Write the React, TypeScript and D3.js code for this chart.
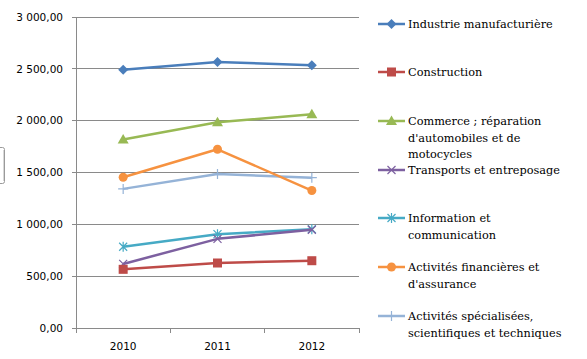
import React, { useEffect, useRef } from "react";
import * as d3 from "d3";

const years = ["2010", "2011", "2012"];
const seriesNames = [
  "Industrie manufacturière",
  "Construction",
  "Commerce ; réparation d'automobiles et de motocycles",
  "Transports et entreposage",
  "Information et communication",
  "Activités financières et d'assurance",
  "Activités spécialisées, scientifiques et techniques",
];
const industrie = [2490, 2566, 2535];
const construction = [566, 627, 649];
const commerce = [1818, 1985, 2062];
const transports = [618, 860, 948];
const information = [784, 905, 953];
const financieres = [1454, 1724, 1326];
const specialisees = [1342, 1485, 1450];
const yTicks = [0, 500, 1000, 1500, 2000, 2500, 3000];

const legendLines = [
  ["Industrie manufacturière"],
  ["Construction"],
  ["Commerce ; réparation", "d'automobiles et de", "motocycles"],
  ["Transports et entreposage"],
  ["Information et", "communication"],
  ["Activités financières et", "d'assurance"],
  ["Activités spécialisées,", "scientifiques et techniques"],
];
const legendY = [24, 72, 121, 170, 218, 267, 316];

const colors = ["#4A7EBB", "#BE4B48", "#98B954", "#7D60A0", "#46AAC5", "#F69240", "#95B3D7"];
const markers = ["diamond", "square", "triangle", "x", "asterisk", "circle", "plus"];

export default function App() {
  const ref = useRef<SVGSVGElement>(null);
  useEffect(() => {
    const svg = d3.select(ref.current);
    svg.selectAll("*").remove();
    const left = 76, right = 359, top = 17, bottom = 328;
    const x = d3.scaleBand().domain(years).range([left, right]);
    const y = d3.scaleLinear().domain([0, 3000]).range([bottom, top]);
    const fmt = (v: number) => {
      const s = d3.format(",.2f")(v);
      return s.replace(/,/g, " ").replace(".", ",");
    };

    // grid
    svg.append("g").selectAll("line").data(yTicks).join("line")
      .attr("x1", left).attr("x2", right)
      .attr("y1", d => y(d)).attr("y2", d => y(d))
      .attr("stroke", "#8a8a8a").attr("stroke-width", 1).attr("shape-rendering", "crispEdges");
    // y axis
    svg.append("line").attr("x1", left).attr("x2", left).attr("y1", top).attr("y2", bottom)
      .attr("stroke", "#8a8a8a").attr("shape-rendering", "crispEdges");
    svg.append("g").selectAll("line").data(yTicks).join("line")
      .attr("x1", left - 4).attr("x2", left).attr("y1", d => y(d)).attr("y2", d => y(d))
      .attr("stroke", "#8a8a8a").attr("shape-rendering", "crispEdges");
    svg.append("g").selectAll("text").data(yTicks).join("text")
      .attr("x", 63).attr("y", d => y(d)).attr("dy", "0.35em")
      .attr("text-anchor", "end").attr("font-family", "DejaVu Sans").attr("font-size", 10.5)
      .attr("fill", "#000").text(d => fmt(d));
    // x axis ticks
    const xt = [left, ...years.slice(1).map(d => x(d)!), right];
    svg.append("g").selectAll("line").data(xt).join("line")
      .attr("x1", d => d).attr("x2", d => d).attr("y1", bottom).attr("y2", bottom + 5)
      .attr("stroke", "#8a8a8a").attr("shape-rendering", "crispEdges");
    svg.append("g").selectAll("text").data(years).join("text")
      .attr("x", d => x(d)! + x.bandwidth() / 2).attr("y", 346).attr("dy", "0.35em")
      .attr("text-anchor", "middle").attr("font-family", "DejaVu Sans").attr("font-size", 10.5)
      .attr("fill", "#000").text(d => d);

    const data = [industrie, construction, commerce, transports, information, financieres, specialisees];
    const drawMarker = (g: any, type: string, cx: number, cy: number, c: string) => {
      if (type === "diamond") {
        g.append("path").attr("d", `M${cx},${cy - 5}L${cx + 5},${cy}L${cx},${cy + 5}L${cx - 5},${cy}Z`).attr("fill", c);
      } else if (type === "square") {
        g.append("rect").attr("x", cx - 4.5).attr("y", cy - 4.5).attr("width", 9).attr("height", 9).attr("fill", c);
      } else if (type === "triangle") {
        g.append("path").attr("d", `M${cx},${cy - 5.5}L${cx + 5.5},${cy + 4}L${cx - 5.5},${cy + 4}Z`).attr("fill", c);
      } else if (type === "circle") {
        g.append("circle").attr("cx", cx).attr("cy", cy).attr("r", 4.5).attr("fill", c);
      } else if (type === "x") {
        g.append("path").attr("d", `M${cx - 4},${cy - 4}L${cx + 4},${cy + 4}M${cx - 4},${cy + 4}L${cx + 4},${cy - 4}`)
          .attr("stroke", c).attr("stroke-width", 1.2).attr("fill", "none");
      } else if (type === "asterisk") {
        g.append("path").attr("d", `M${cx - 4},${cy - 4}L${cx + 4},${cy + 4}M${cx - 4},${cy + 4}L${cx + 4},${cy - 4}M${cx},${cy - 5}L${cx},${cy + 5}`)
          .attr("stroke", c).attr("stroke-width", 1.2).attr("fill", "none");
      } else if (type === "plus") {
        g.append("path").attr("d", `M${cx},${cy - 5}L${cx},${cy + 5}M${cx - 5},${cy}L${cx + 5},${cy}`)
          .attr("stroke", c).attr("stroke-width", 1.2).attr("fill", "none");
      }
    };

    const line = d3.line<number>().x((_, i) => x(years[i])! + x.bandwidth() / 2).y(d => y(d));
    const order = [6, 5, 4, 3, 2, 1, 0];
    order.forEach(si => {
      const g = svg.append("g");
      g.append("path").attr("d", line(data[si])).attr("fill", "none")
        .attr("stroke", colors[si]).attr("stroke-width", 2.5).attr("stroke-linejoin", "round");
      data[si].forEach((v, i) => drawMarker(g, markers[si], x(years[i])! + x.bandwidth() / 2, y(v), colors[si]));
    });

    // legend
    legendLines.forEach((lines, si) => {
      const g = svg.append("g");
      const ly = legendY[si];
      g.append("line").attr("x1", 378).attr("x2", 405).attr("y1", ly).attr("y2", ly)
        .attr("stroke", colors[si]).attr("stroke-width", 2.5);
      drawMarker(g, markers[si], 391.5, ly, colors[si]);
      lines.forEach((t, k) => {
        g.append("text").attr("x", 408).attr("y", ly + k * 16.7).attr("dy", "0.35em")
          .attr("font-family", "DejaVu Serif").attr("font-size", 11.3).attr("fill", "#000").text(t);
      });
    });

    // cropped box at left edge
    svg.append("rect").attr("x", -20).attr("y", 147.5).attr("width", 24.5).attr("height", 36)
      .attr("rx", 2).attr("fill", "#fff").attr("stroke", "#9a9a9a");
    svg.append("line").attr("x1", 3.5).attr("x2", 3.5).attr("y1", 150).attr("y2", 181)
      .attr("stroke", "#d8d8d8");
  }, []);
  return (
    <svg ref={ref} width={587} height={359}
      style={{ position: "absolute", left: 0, top: 0, background: "#fff" }} />
  );
}
